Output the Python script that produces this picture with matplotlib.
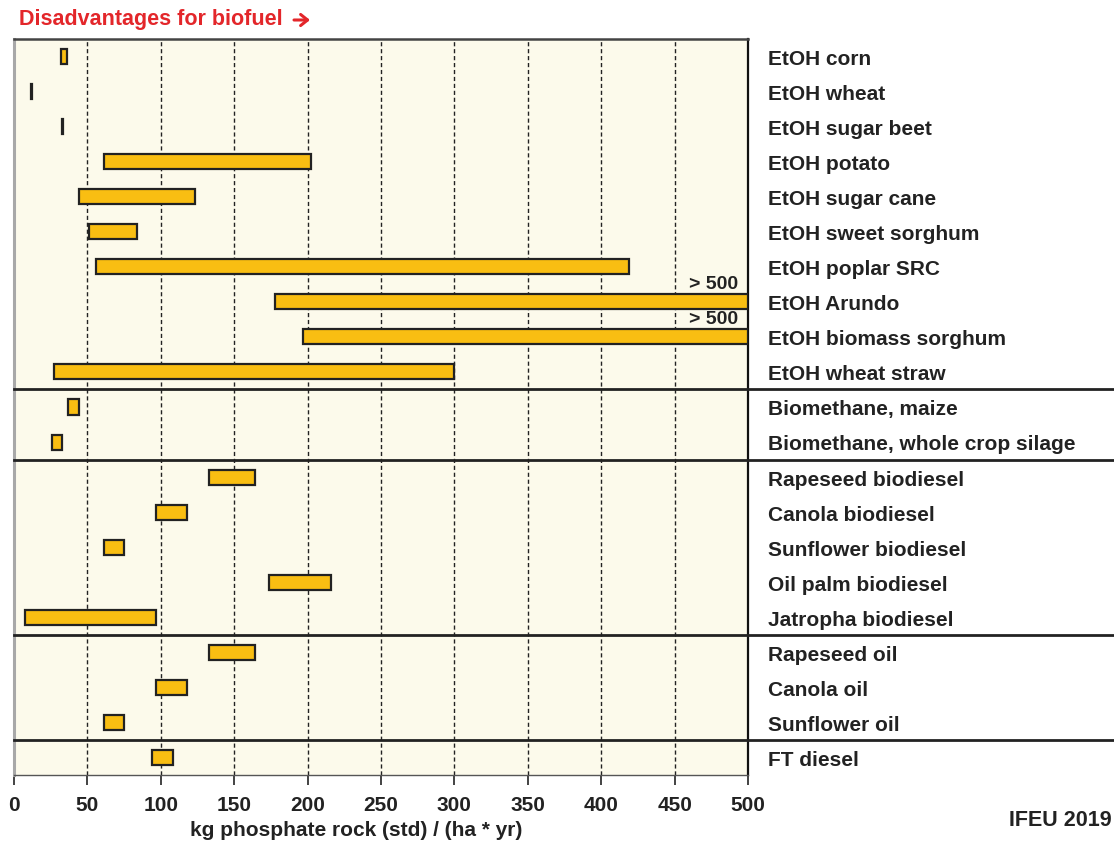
import matplotlib
matplotlib.use("Agg")
import matplotlib.pyplot as plt
from matplotlib.transforms import blended_transform_factory
import numpy as np

plt.rcParams['font.family'] = ['Liberation Sans', 'DejaVu Sans']
plt.rcParams['font.weight'] = 'bold'

categories = [
    "EtOH corn", "EtOH wheat", "EtOH sugar beet", "EtOH potato", "EtOH sugar cane",
    "EtOH sweet sorghum", "EtOH poplar SRC", "EtOH Arundo", "EtOH biomass sorghum",
    "EtOH wheat straw",
    "Biomethane, maize", "Biomethane, whole crop silage",
    "Rapeseed biodiesel", "Canola biodiesel", "Sunflower biodiesel",
    "Oil palm biodiesel", "Jatropha biodiesel",
    "Rapeseed oil", "Canola oil", "Sunflower oil",
    "FT diesel",
]
low_values = [32, 11.4, 32.8, 61, 44, 51, 56, 178, 197, 27,
              37, 26,
              133, 97, 61, 174, 7.5,
              133, 97, 61,
              94]
high_values = [36, 12.6, 33.2, 202, 123, 84, 419, 500, 500, 300,
               44, 33,
               164, 118, 75, 216, 97,
               164, 118, 75,
               108]
overflow_labels = {"EtOH Arundo": "> 500", "EtOH biomass sorghum": "> 500"}
group_sizes = [10, 2, 5, 3, 1]
x_ticks = [0, 50, 100, 150, 200, 250, 300, 350, 400, 450, 500]

FS = 15
W, H = 1114, 841
fig = plt.figure(figsize=(W / 100, H / 100), dpi=100)
ax = fig.add_axes([14 / W, 1 - 775 / H, (748 - 14) / W, (775 - 39) / H])
ax.set_facecolor("#FCFAEB")

y = np.arange(len(categories))
lows = np.array(low_values)
highs = np.array(high_values)
ax.barh(y, highs - lows, left=lows, height=0.43, color="#F9BE12",
        edgecolor="#222222", linewidth=1.6, zorder=3)

ax.set_xlim(0, 500)
ax.set_ylim(len(categories) - 0.5, -0.5)
ax.set_yticks([])
ax.set_xticks(x_ticks)
ax.set_xticklabels([str(t) for t in x_ticks], fontsize=FS, fontweight='bold',
                   color="#222222")
ax.tick_params(axis='x', direction='out', length=7, width=1.2, color="#222222", pad=8)

for t in x_ticks[1:-1]:
    ax.axvline(t, color="#222222", linestyle=(0, (3, 2)), linewidth=1.0, zorder=1)

ax.spines['left'].set_color("#A8A8A8")
ax.spines['left'].set_linewidth(2.2)
ax.spines['top'].set_color("#444444")
ax.spines['top'].set_linewidth(1.8)
ax.spines['right'].set_color("#111111")
ax.spines['right'].set_linewidth(1.6)
ax.spines['bottom'].set_color("#555555")
ax.spines['bottom'].set_linewidth(1.0)

# category labels on the right
trans = blended_transform_factory(ax.transAxes, ax.transData)
x_label = (768 - 14) / (748 - 14)
for i, c in enumerate(categories):
    ax.text(x_label, i + 0.24, c, transform=trans, ha='left', va='baseline',
            fontsize=FS, fontweight='bold', color="#222222", clip_on=False)
    if c in overflow_labels:
        ax.text(493, i - 0.36, overflow_labels[c], ha='right', va='baseline',
                fontsize=14, fontweight='bold', color="#222222", zorder=4)

# group separators
x_end = (W - 14) / (748 - 14)
b = 0
for g in group_sizes[:-1]:
    b += g
    ax.plot([0, x_end], [b - 0.5, b - 0.5], transform=trans, color="#222222",
            linewidth=2.0, clip_on=False, zorder=5)

ax.set_xlabel("kg phosphate rock (std) / (ha * yr)", fontsize=FS,
              fontweight='bold', color="#222222")
ax.xaxis.set_label_coords((356 - 14) / (748 - 14), -(830 - 775) / (775 - 39))
ax.xaxis.label.set_va('center')

fig.text(19 / W, 1 - 19 / H, "Disadvantages for biofuel", color="#E3262A",
         fontsize=15.5, fontweight='bold', ha='left', va='center')
fig.add_artist(matplotlib.patches.FancyArrowPatch(
    (294 / W, 1 - 20 / H), (310 / W, 1 - 20 / H), transform=fig.transFigure,
    arrowstyle='->,head_length=5,head_width=4', linewidth=2.2, color="#E3262A",
    shrinkA=0, shrinkB=0))
fig.text(1112 / W, 1 - 821 / H, "IFEU 2019", color="#222222",
         fontsize=15.5, fontweight='bold', ha='right', va='center')

fig.savefig("out.png", dpi=100)
